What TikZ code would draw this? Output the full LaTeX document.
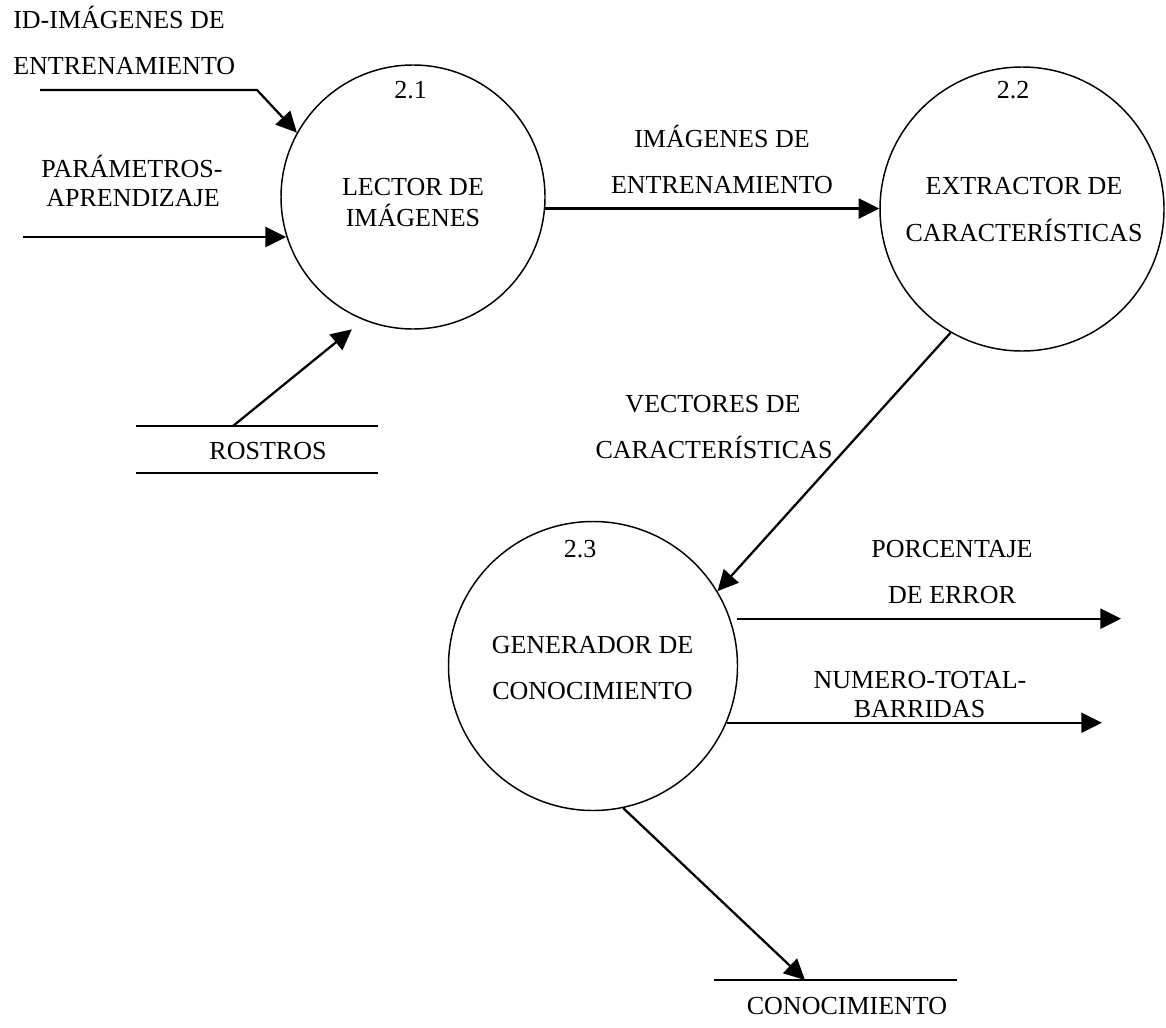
\documentclass[tikz,border=0pt]{standalone}
\usepackage{fontspec}
\setmainfont{Liberation Serif}
\usetikzlibrary{arrows.meta}
\begin{document}
\begin{tikzpicture}[x=0.75pt,y=-0.75pt,
  proc/.style={circle,draw,line width=1.1pt,inner sep=0pt},
  flow/.style={line width=1.7pt,-{Triangle[length=15.5pt,width=15pt]}},
  storeline/.style={line width=1.6pt},
  storebox/.style={inner sep=0pt,minimum width=181.5pt},
  lbl/.style={inner sep=0pt,anchor=base,font=\fontsize{19.5}{22}\selectfont},
  lbll/.style={lbl,anchor=base west}]
\useasboundingbox (0,0) rectangle (1166,1027);

% processes
\node[proc,minimum size=198pt]   (c1) at (413,197) {};
\node[proc,minimum size=213pt]   (c2) at (1022,209) {};
\node[proc,minimum size=216.75pt] (c3) at (593,666) {};

\node[lbl] (n1)  at (410.5,99) {2.1};
\node[lbl] (t1a) at (413,195.7) {LECTOR DE};
\node[lbl] (t1b) at (413,226) {IMÁGENES};

\node[lbl] (n2)  at (1013,99) {2.2};
\node[lbl] (t2a) at (1024,195) {EXTRACTOR DE};
\node[lbl] (t2b) at (1024,241) {CARACTERÍSTICAS};

\node[lbl] (n3)  at (580,557) {2.3};
\node[lbl] (t3a) at (592.5,653) {GENERADOR DE};
\node[lbl] (t3b) at (592.5,699) {CONOCIMIENTO};

% data stores
\node[storebox,minimum height=35.25pt] (rostros) at (257,449.5) {};
\draw[storeline] (rostros.north west) -- (rostros.north east);
\draw[storeline] (rostros.south west) -- (rostros.south east);
\node[lbl] (rostrosl) at (268,459) {ROSTROS};

\node[storebox] (conoc) at (835.5,980) {};
\draw[storeline] (conoc.west) -- (conoc.east);
\node[lbl] (conocl) at (847,1014) {CONOCIMIENTO};

% free ends of the flows
\coordinate (idA) at (40,90);
\coordinate (idB) at (257,90);
\coordinate (pa)  at (23,237);
\coordinate (rs)  at (233,426);
\coordinate (pe)  at (1121,617);
\coordinate (ne)  at (1102,723);
\coordinate (kt)  at (805,980);

% flows
\draw[flow] (idA) -- (idB) -- (c1.151);
\draw[flow] (pa) -- (pa -| c1.197);
\draw[flow,shorten >=11pt] (rs) -- (c1.248.4);
\draw[flow] (c1.-5.6) -- (c1.-5.6 -| c2.west);
\draw[flow] (c2.240) -- (c3.31.4);
\draw[flow] ([xshift=5.25pt]c3.19.8) -- (c3.19.8 -| pe);
\draw[flow] (c3.-23.2) -- (c3.-23.2 -| ne);
\draw[flow] (c3.282.8) -- (kt);

% flow labels
\node[lbll] (l1a) at (13,29) {ID-IMÁGENES DE};
\node[lbll] (l1b) at (13,75) {ENTRENAMIENTO};
\node[lbl] (l2a) at (132,177) {PARÁMETROS-};
\node[lbl] (l2b) at (133,206.5) {APRENDIZAJE};
\node[lbl] (l3a) at (722,147) {IMÁGENES DE};
\node[lbl] (l3b) at (722,193) {ENTRENAMIENTO};
\node[lbl] (l4a) at (713,412) {VECTORES DE};
\node[lbl] (l4b) at (714,458) {CARACTERÍSTICAS};
\node[lbl] (l5a) at (952,557) {PORCENTAJE};
\node[lbl] (l5b) at (952,603) {DE ERROR};
\node[lbl] (l6a) at (920,688) {NUMERO-TOTAL-};
\node[lbl] (l6b) at (919.5,717) {BARRIDAS};
\end{tikzpicture}
\end{document}
